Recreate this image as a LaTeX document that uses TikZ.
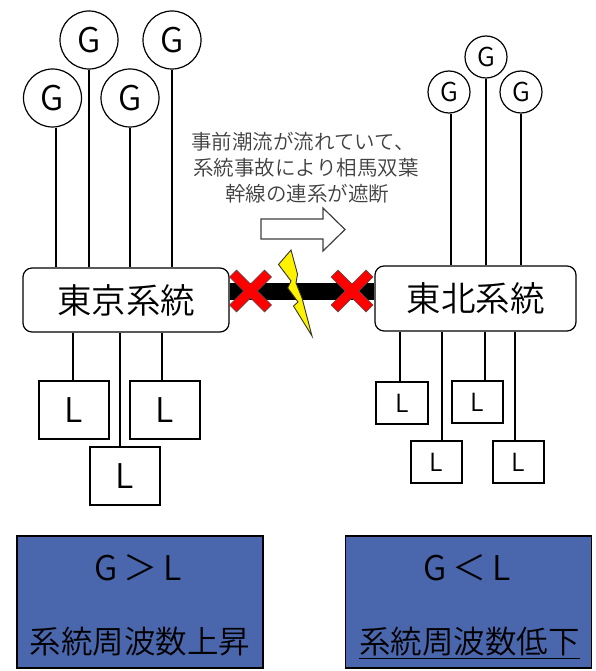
\documentclass[tikz,border=0pt]{standalone}
\usepackage{fontspec}
\setmainfont{Noto Sans CJK JP DemiLight}
\usetikzlibrary{calc}
\definecolor{panelblue}{HTML}{4A66AC}
\definecolor{captiongray}{HTML}{404040}
\tikzset{
  wire/.style={draw=black,line width=1.2pt},
  gen/.style={circle,draw=black,line width=1.2pt,fill=white,inner sep=0pt,minimum size=#1},
  load/.style={rectangle,draw=black,line width=1.2pt,fill=white,inner sep=0pt,minimum width=#1},
  sys/.style={rectangle,rounded corners=9pt,draw=black,line width=1.2pt,fill=white,inner sep=0pt,font=\fontsize{34.5}{34.5}\selectfont},
  panel/.style={rectangle,draw=black,line width=1.2pt,fill=panelblue,inner sep=0pt,minimum width=246pt,minimum height=132pt},
  lbl/.style={inner sep=0pt,text=black},
  capt/.style={inner sep=0pt,text=captiongray,font=\fontsize{20.5}{20.5}\selectfont},
  crossmark/.style={fill=red,draw=black!70,line width=0.6pt},
}
\begin{document}
\begin{tikzpicture}[x=1pt,y=-1pt]
\useasboundingbox (0,0) rectangle (596,671);
\fill[white] (0,0) rectangle (596,671);
% systems
\node[sys,minimum width=206pt,minimum height=64pt] (tokyo) at (126,300) {東京系統};
\node[sys,minimum width=201pt,minimum height=65pt] (tohoku) at (475.5,298.5) {東北系統};
% tie line
\draw[line width=17pt] (tokyo.east |- 0,291.5) -- (tohoku.west |- 0,291.5);
% generators
\foreach \n/\x/\y/\d in {g1/52.5/98/3.5,g2/89/40/0,g3/130/98/0,g4/172/40/0}{
  \node[gen=58pt,font=\fontsize{34}{34}\selectfont] (\n) at (\x,\y) {G};
  \draw[wire] ([xshift=\d pt]\n.south) -- ([xshift=\d pt]\n.south |- tokyo.north);
}
\foreach \n/\x/\y/\d in {g5/449/92/2,g6/486/57/0,g7/521/92/0}{
  \node[gen=42pt,font=\fontsize{26}{26}\selectfont] (\n) at (\x,\y) {G};
  \draw[wire] ([xshift=\d pt]\n.south) -- ([xshift=\d pt]\n.south |- tohoku.north);
}
% loads
\foreach \n/\x/\y/\d in {l1/74/410/-1,l2/165/410/-3,l3/125/476/-5}{
  \node[load=70pt,minimum height=58pt,font=\fontsize{34}{34}\selectfont] (\n) at (\x,\y) {L};
  \draw[wire] ([xshift=\d pt]\n.north) -- ([xshift=\d pt]\n.north |- tokyo.south);
}
\foreach \n/\x/\y/\d/\w in {l4/402/403/-2/52,l5/477.5/402/7.5/51,l6/436.5/462/5.5/51,l7/518.5/462/-3.5/51}{
  \node[load=\w pt,minimum height=42pt,font=\fontsize{25}{25}\selectfont] (\n) at (\x,\y) {L};
  \draw[wire] ([xshift=\d pt]\n.north) -- ([xshift=\d pt]\n.north |- tohoku.south);
}
% caption
\node[capt] (c1) at (303,142) {事前潮流が流れていて、};
\node[capt] (c2) at (306,168) {系統事故により相馬双葉};
\node[capt] (c3) at (307,194) {幹線の連系が遮断};
% arrow
\draw[fill=white,draw=captiongray,line width=1.2pt] (261,219) -- (323,219) -- (323,208) -- (345,229.5) -- (323,251) -- (323,239) -- (261,239) -- cycle;
% crosses
\foreach \cx in {250.5,352}{
  \draw[crossmark] ({\cx-21},{291-14}) -- ({\cx-14},{291-21}) -- (\cx,{291-7}) -- ({\cx+14},{291-21}) -- ({\cx+21},{291-14}) -- ({\cx+7},291) -- ({\cx+21},{291+14}) -- ({\cx+14},{291+21}) -- (\cx,{291+7}) -- ({\cx-14},{291+21}) -- ({\cx-21},{291+14}) -- ({\cx-7},291) -- cycle;
}
% lightning
\draw[fill=yellow,draw=black!80,line width=0.9pt] (291,250) -- (278.5,264.5) -- (291,281) -- (287.7,288) -- (298,302) -- (293.5,306) -- (312,336) -- (302,298) -- (296,283) -- (297.5,274) -- cycle;
% panels
\node[panel] (p1) at (140,602) {};
\node[panel] (p2) at (468.5,602) {};
\node[lbl,font=\fontsize{34}{34}\selectfont] (gl1) at (138.5,568) {G\hspace{6pt}＞\hspace{6pt}L};
\node[lbl,font=\fontsize{34}{34}\selectfont] (gl2) at (467.5,568) {G\hspace{6pt}＜\hspace{6pt}L};
\node[lbl,font=\fontsize{31.5}{32}\selectfont] (f1) at (140,642) {系統周波数上昇};
\node[lbl,font=\fontsize{31.5}{32}\selectfont] (f2) at (469.5,642) {系統周波数低下};
\draw[line width=1.3pt] ([yshift=-2pt]f2.south west) -- ([yshift=-2pt]f2.south east);
\end{tikzpicture}
\end{document}
